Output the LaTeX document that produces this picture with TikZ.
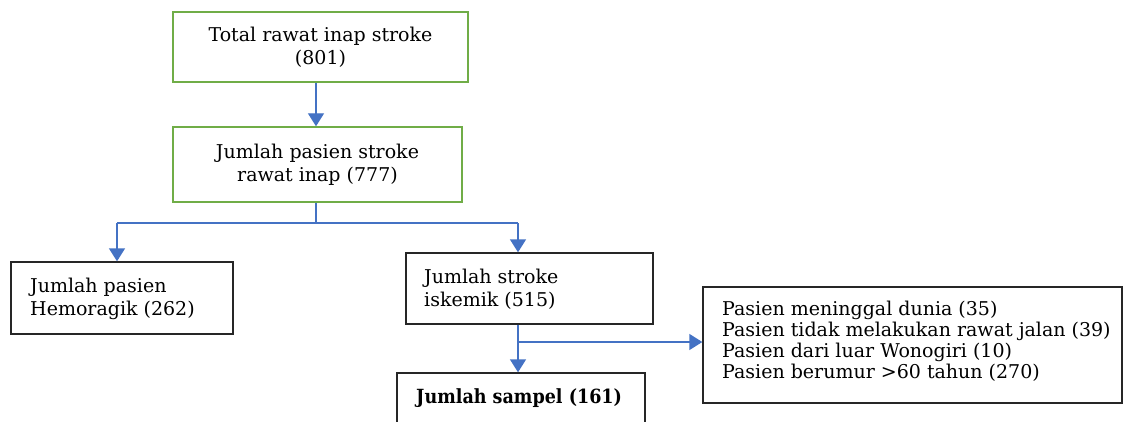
\documentclass[tikz,border=0pt]{standalone}
\usepackage{fontspec}
\setmainfont{DejaVu Serif}
\newfontfamily\condserif[FakeStretch=0.9]{DejaVu Serif}
\usetikzlibrary{arrows.meta}
\definecolor{boxgreen}{RGB}{112,173,71}
\definecolor{arrowblue}{RGB}{68,114,196}
\begin{document}
\begin{tikzpicture}[x=1pt,y=-1pt,
  every node/.style={font=\fontsize{19}{23}\selectfont},
  gbox/.style={draw=boxgreen,line width=1.4pt,rectangle,align=center,inner sep=0pt},
  kbox/.style={draw=black!85,line width=1.4pt,rectangle,inner sep=0pt},
  txt/.style={anchor=north west,align=left,inner sep=0pt},
  conn/.style={draw=arrowblue,line width=1.4pt},
  arr/.style={conn,-{Triangle[width=16pt,length=13pt]}}]
\useasboundingbox (0,0) rectangle (1123,422);
\fill[white] (0,0) rectangle (1123,422);
% boxes
\node[gbox,minimum width=295pt,minimum height=70pt] (b1) at (320.5,47) {Total rawat inap stroke\\(801)};
\node[gbox,minimum width=289pt,minimum height=75pt] (b2) at (317.5,164.5) {Jumlah pasien stroke\\rawat inap (777)};
\node[kbox,minimum width=222pt,minimum height=72pt] (b3) at (122,298) {};
\node[txt] (t3) at (30,277.5) {Jumlah pasien\\Hemoragik (262)};
\node[kbox,minimum width=247pt,minimum height=71pt] (b4) at (529.5,288.5) {};
\node[txt] (t4) at (424,268.5) {Jumlah stroke\\iskemik (515)};
\node[kbox,minimum width=248pt,minimum height=62pt] (b5) at (521,404) {};
\node[anchor=base west,inner sep=0pt,font=\fontsize{19.5}{23}\condserif\bfseries] (t5) at (416,403) {Jumlah sampel (161)};
\node[kbox,minimum width=419pt,minimum height=116pt] (b6) at (912.5,345) {};
\node[txt,font=\fontsize{19}{21}\selectfont] (t6) at (722,300.5) {Pasien meninggal dunia (35)\\Pasien tidak melakukan rawat jalan (39)\\Pasien dari luar Wonogiri (10)\\Pasien berumur >60 tahun (270)};
% connectors
\coordinate (j) at (316,223);
\coordinate (jl) at (117,223);
\coordinate (jr) at (518,223);
\coordinate (k) at (518,342);
\path[arr] (b1.south -| j) -- (b2.north -| j);
\path[conn] (b2.south -| j) -- (j);
\path[conn] (jl) -- (jr);
\path[arr] (jl) -- (jl |- b3.north);
\path[arr] (jr) -- (jr |- b4.north);
\path[arr] (b4.south -| jr) -- (b5.north -| jr);
\path[arr] (k) -- (k -| b6.west);
\end{tikzpicture}
\end{document}
